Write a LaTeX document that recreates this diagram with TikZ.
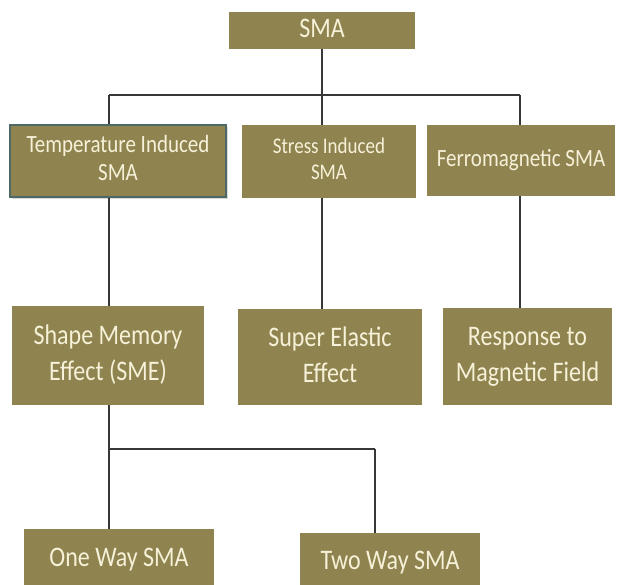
\documentclass[tikz,border=0pt]{standalone}
\usepackage{fontspec}
\setmainfont{Carlito}
\usetikzlibrary{shadows}
\definecolor{olivebox}{RGB}{143,132,80}
\definecolor{creamtxt}{RGB}{246,241,216}
\definecolor{tealedge}{RGB}{78,104,104}
\definecolor{linegray}{RGB}{55,55,55}
\newcommand{\tx}[3]{\scalebox{1}[1.18]{\fontsize{#1}{#2}\selectfont\begin{tabular}{@{}c@{}}#3\end{tabular}}}
\tikzset{
  box/.style={rectangle, fill=olivebox, text=creamtxt, inner sep=0pt, align=center},
  conn/.style={draw=linegray, line width=1.1pt}
}
\begin{document}
\begin{tikzpicture}[x=1pt,y=-1pt]
\useasboundingbox (0,0) rectangle (620,584);
% top
\node[box, minimum width=186pt, minimum height=37pt] (sma) at (322,30.5) {\tx{24}{29}{SMA}};
% row 1
\node[box, minimum width=216pt, minimum height=72pt, draw=tealedge, line width=1.2pt,
      drop shadow={shadow xshift=1.5pt, shadow yshift=-1.5pt, fill=black!30}] (temp) at (118,161) {\tx{21}{23.7}{Temperature Induced\\SMA}};
\node[box, minimum width=174pt, minimum height=73pt] (stress) at (329,161.5) {\tx{19}{21.8}{Stress Induced\\SMA}};
\node[box, minimum width=188pt, minimum height=71pt] (ferro) at (521,160.5) {\tx{21}{24}{Ferromagnetic SMA}};
% row 2
\node[box, minimum width=192pt, minimum height=99pt] (shape) at (108,355.5) {\tx{24}{30.5}{Shape Memory\\Effect (SME)}};
\node[box, minimum width=184pt, minimum height=96pt] (super) at (330,357) {\tx{24}{30.5}{Super Elastic\\Effect}};
\node[box, minimum width=169pt, minimum height=97pt] (resp) at (527.5,356.5) {\tx{24}{30.5}{Response to\\Magnetic Field}};
% row 3
\node[box, minimum width=190pt, minimum height=62pt] (oneway) at (119,560) {\tx{24}{29}{One Way SMA}};
\node[box, minimum width=180pt, minimum height=60pt] (twoway) at (390,563) {\tx{24}{29}{Two Way SMA}};
% junction coordinates
\coordinate (j1) at (109,95);
\coordinate (j2) at (520,95);
\coordinate (k1) at (109,449);
\coordinate (k2) at (375,449);
% connectors
\draw[conn] (j1) -- (j2);
\draw[conn] (sma.south) -- (sma.south |- j1);
\draw[conn] (j1) -- (j1 |- temp.north);
\draw[conn] (sma.south |- j1) -- (sma.south |- stress.north);
\draw[conn] (j2) -- (j2 |- ferro.north);
\draw[conn] (j1 |- temp.south) -- (j1 |- shape.north);
\draw[conn] (sma.south |- stress.south) -- (sma.south |- super.north);
\draw[conn] (j2 |- ferro.south) -- (j2 |- resp.north);
\draw[conn] (k1 |- shape.south) -- (k1);
\draw[conn] (k1) -- (k2);
\draw[conn] (k1) -- (k1 |- oneway.north);
\draw[conn] (k2) -- (k2 |- twoway.north);
\end{tikzpicture}
\end{document}
